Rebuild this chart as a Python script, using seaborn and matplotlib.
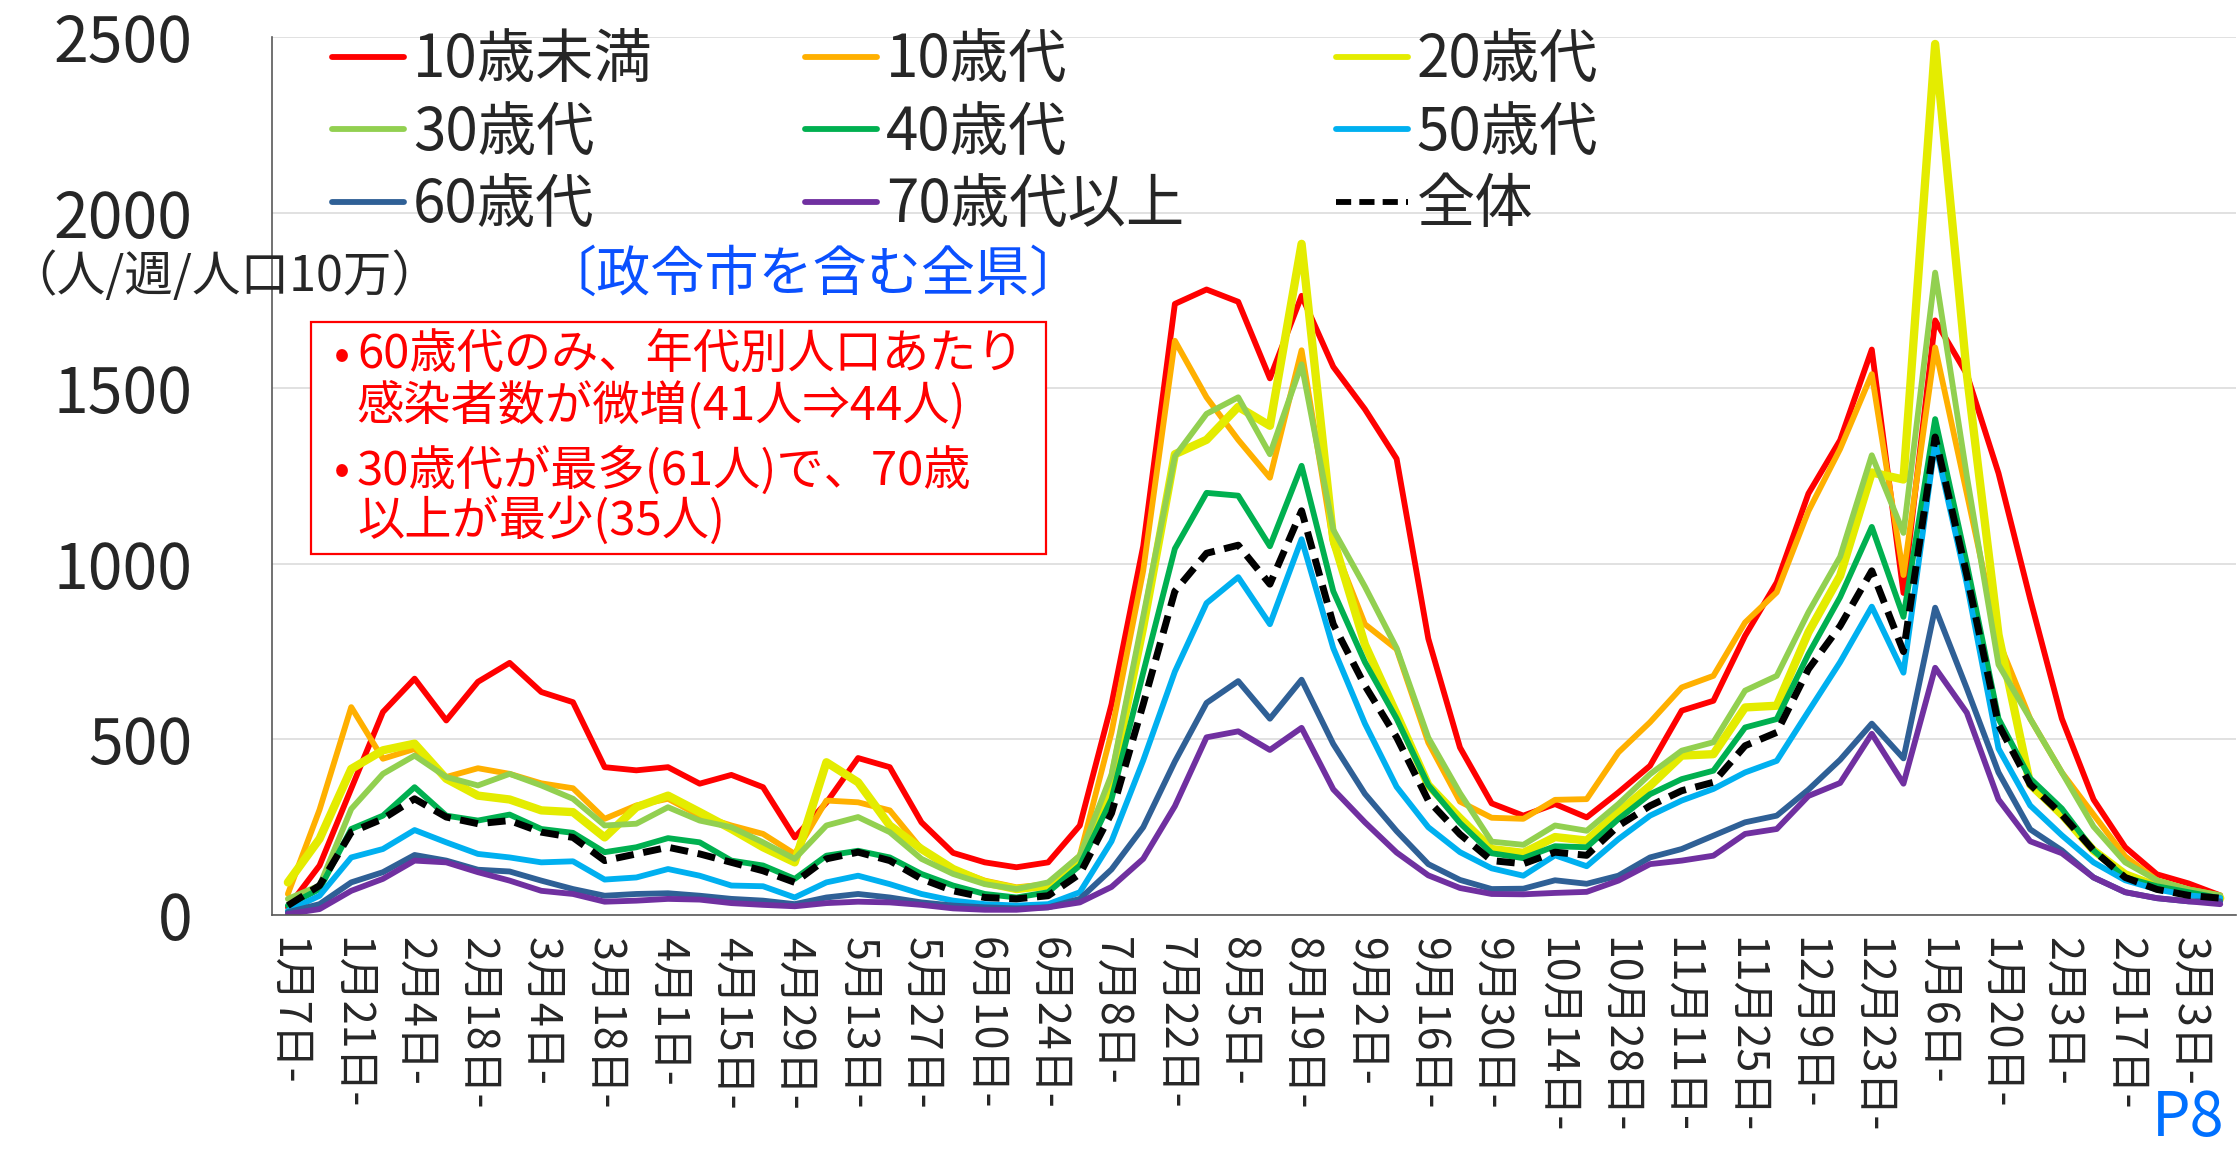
import numpy as np
import pandas as pd
import matplotlib
matplotlib.use("Agg")
import matplotlib.pyplot as plt
from matplotlib.patches import Rectangle
from matplotlib.ticker import MultipleLocator, FixedLocator
import seaborn as sns

# weekly cases per 100k population, by age group
week_labels = ["1月7日-", "1月21日-", "2月4日-", "2月18日-", "3月4日-", "3月18日-",
               "4月1日-", "4月15日-", "4月29日-", "5月13日-", "5月27日-", "6月10日-",
               "6月24日-", "7月8日-", "7月22日-", "8月5日-", "8月19日-", "9月2日-",
               "9月16日-", "9月30日-", "10月14日-", "10月28日-", "11月11日-", "11月25日-",
               "12月9日-", "12月23日-", "1月6日-", "1月20日-", "2月3日-", "2月17日-", "3月3日-"]

under10 = [22, 141, 360, 578, 673, 554, 664, 718, 635, 606, 421, 412, 421, 374, 399, 364,
           221, 320, 447, 421, 264, 177, 150, 136, 150, 255, 600, 1050, 1740, 1781, 1746, 1528,
           1763, 1561, 1440, 1299, 787, 477, 318, 283, 316, 278, 349, 425, 582, 610,
           795, 947, 1200, 1352, 1610, 917, 1693, 1540, 1258, 900, 559, 329, 193, 116, 90, 56]
teens = [60, 300, 592, 445, 473, 393, 418, 402, 375, 361, 274, 312, 331, 283, 255, 231,
         174, 326, 321, 298, 188, 131, 98, 79, 88, 169, 520, 980, 1635, 1474, 1353, 1245,
         1608, 1057, 828, 757, 491, 323, 277, 274, 328, 330, 463, 549, 648, 681,
         833, 919, 1150, 1327, 1540, 968, 1616, 1200, 781, 559, 406, 286, 167, 99, 73, 56]
twenties = [93, 217, 416, 469, 488, 388, 340, 329, 298, 293, 221, 307, 340, 293, 245, 193,
            150, 435, 378, 255, 188, 131, 93, 74, 84, 160, 380, 820, 1312, 1353, 1447, 1393,
            1911, 1070, 770, 572, 370, 276, 188, 177, 222, 212, 292, 368, 454, 458,
            591, 596, 805, 966, 1260, 1240, 2480, 1540, 798, 372, 286, 184, 116, 82, 65, 48]
thirties = [46, 84, 302, 402, 454, 393, 369, 402, 369, 331, 255, 260, 307, 269, 250, 207,
            160, 255, 279, 236, 160, 117, 88, 74, 93, 169, 400, 850, 1306, 1427, 1474, 1312,
            1568, 1097, 935, 760, 505, 347, 209, 200, 255, 240, 316, 401, 468, 492,
            639, 681, 862, 1020, 1309, 1088, 1829, 1250, 713, 559, 406, 252, 150, 99, 73, 56]
forties = [27, 74, 245, 283, 364, 283, 269, 286, 245, 234, 179, 193, 219, 207, 155, 141,
           103, 169, 183, 164, 117, 84, 60, 50, 65, 141, 330, 690, 1043, 1202, 1194, 1050,
           1279, 922, 720, 559, 370, 262, 176, 162, 196, 193, 273, 344, 387, 411,
           534, 558, 743, 905, 1105, 849, 1412, 1000, 559, 389, 303, 184, 107, 82, 65, 48]
fifties = [12, 55, 164, 188, 242, 207, 174, 164, 150, 153, 101, 107, 131, 112, 84, 82,
           50, 93, 112, 88, 60, 41, 31, 27, 31, 65, 210, 440, 693, 888, 962, 828,
           1070, 760, 545, 365, 250, 179, 133, 112, 170, 139, 216, 283, 326, 359,
           406, 439, 580, 720, 878, 690, 1344, 943, 474, 312, 227, 150, 99, 73, 56, 48]
sixties = [8, 31, 93, 122, 171, 155, 129, 124, 98, 74, 55, 60, 62, 55, 46, 41,
           31, 50, 60, 50, 36, 27, 22, 19, 22, 46, 130, 250, 437, 604, 666, 559,
           670, 487, 345, 239, 145, 100, 74, 75, 99, 89, 112, 164, 188, 226,
           264, 283, 357, 442, 545, 446, 875, 645, 406, 244, 184, 107, 65, 48, 39, 39]
over70 = [3, 17, 69, 103, 155, 150, 122, 98, 69, 60, 38, 41, 46, 44, 34, 29,
          25, 34, 38, 36, 29, 19, 15, 15, 22, 36, 80, 160, 310, 506, 523, 470,
          533, 358, 264, 178, 113, 77, 60, 59, 63, 66, 98, 145, 155, 169,
          231, 245, 339, 376, 516, 374, 704, 576, 329, 210, 176, 107, 65, 48, 39, 31]
overall = [27, 84, 236, 274, 331, 279, 260, 269, 236, 221, 155, 174, 193, 174, 150, 126,
           93, 160, 179, 155, 103, 69, 50, 46, 55, 117, 290, 600, 922, 1030, 1053, 942,
           1151, 828, 653, 506, 326, 230, 155, 146, 179, 170, 254, 311, 354, 378,
           482, 520, 700, 823, 980, 750, 1361, 968, 542, 372, 286, 184, 107, 73, 56, 48]

weeks = np.arange(len(under10))

series = [
    ("10歳未満", under10, "#FF0000", 4.2, "-"),
    ("10歳代", teens, "#FFB000", 4.2, "-"),
    ("20歳代", twenties, "#E4EC00", 6.0, "-"),
    ("30歳代", thirties, "#92D050", 4.2, "-"),
    ("40歳代", forties, "#00B050", 4.2, "-"),
    ("50歳代", fifties, "#00B0F0", 4.2, "-"),
    ("60歳代", sixties, "#2F6096", 4.2, "-"),
    ("70歳代以上", over70, "#7030A0", 4.2, "-"),
    ("全体", overall, "#000000", 5.0, (0, (2.6, 1.4))),
]

sns.set_style("white")
plt.rcParams['font.family'] = ['Noto Sans CJK JP', 'DejaVu Sans']

fig = plt.figure(figsize=(22.39, 11.51), dpi=100)
ax = fig.add_axes([0.1215, 0.205, 0.8772, 0.7629])

for name, vals, color, lw, ls in series:
    df = pd.DataFrame({"week": weeks, "value": vals})
    sns.lineplot(data=df, x="week", y="value", ax=ax, color=color,
                 linewidth=lw, linestyle=ls, label=name)

# axes
ax.set_xlim(-0.5, len(weeks) - 0.5)
ax.set_ylim(0, 2500)
ax.set_xlabel("")
ax.set_ylabel("")
ax.yaxis.set_major_locator(MultipleLocator(500))
ax.yaxis.set_minor_locator(MultipleLocator(100))
ax.tick_params(axis="y", which="major", direction="inout", length=31, width=1.2,
               labelsize=45, pad=42, color="#595959")
ax.tick_params(axis="y", which="minor", direction="out", length=17, width=1.2,
               color="#595959")
ax.grid(axis="y", which="major", color="#d9d9d9", lw=1.1)
ax.set_axisbelow(True)

ax.set_xticks(weeks[::2])
ax.set_xticklabels(week_labels, rotation=270)
ax.xaxis.set_minor_locator(FixedLocator(np.append(weeks - 0.5, weeks[-1] + 0.5)))
ax.tick_params(axis="x", which="major", length=0, pad=16, labelsize=31)
ax.tick_params(axis="x", which="minor", direction="out", length=9, width=1.2,
               color="#595959")

for s in ["top", "right"]:
    ax.spines[s].set_visible(False)
for s in ["left", "bottom"]:
    ax.spines[s].set_color("#595959")
    ax.spines[s].set_linewidth(1.2)

# legend laid out row by row like the original (3 x 3)
handles, labels = ax.get_legend_handles_labels()
order = [0, 3, 6, 1, 4, 7, 2, 5, 8]
leg = ax.legend([handles[i] for i in order], [labels[i] for i in order],
                ncol=3, loc="upper left", bbox_to_anchor=(332 / 2239, 1 - 30 / 1151),
                bbox_transform=fig.transFigure, frameon=False, fontsize=42,
                handlelength=1.24, handletextpad=0.15, columnspacing=2.6,
                labelspacing=0.2, borderpad=0, borderaxespad=0)
for h in leg.get_lines():
    h.set_linewidth(4.2)

# unit label
fig.text(224 / 2239, 1 - 277 / 1151, "（人/週/人口10万）", fontsize=35,
         ha="center", va="center")

# area note
fig.text(813 / 2239, 1 - 275 / 1151, "〔政令市を含む全県〕", fontsize=39,
         color="#0A50FF", ha="center", va="center")

# red comment box
fig.add_artist(Rectangle((311 / 2239, 1 - 554 / 1151), (1046 - 311) / 2239,
                         (554 - 322) / 1151, transform=fig.transFigure,
                         facecolor="white", edgecolor="#FF0000", lw=1.6, zorder=5))
note_lines = [("•", "60歳代のみ、年代別人口あたり", 356),
              ("", "感染者数が微増(41人⇒44人)", 406),
              ("•", "30歳代が最多(61人)で、70歳", 471),
              ("", "以上が最少(35人)", 521)]
for bullet, txt, yy in note_lines:
    if bullet:
        fig.text(334 / 2239, 1 - yy / 1151, bullet, fontsize=34, color="#FF0000",
                 ha="left", va="center", zorder=6)
    fig.text(357 / 2239, 1 - yy / 1151, txt, fontsize=34, color="#FF0000",
             ha="left", va="center", zorder=6)

fig.text(2224 / 2239, 1 - 1136 / 1151, "P8", fontsize=44, color="#0070FF",
         ha="right", va="baseline")

fig.savefig("out.png", dpi=100)
